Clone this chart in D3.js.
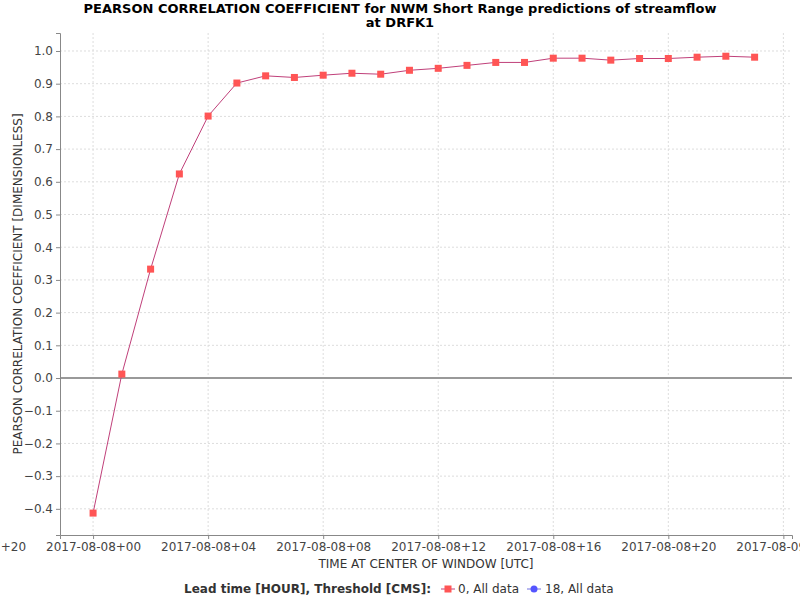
<!DOCTYPE html>
<html><head><meta charset="utf-8">
<script src="https://cdn.jsdelivr.net/npm/d3@7"></script>
<style>body{margin:0;background:#fff;font-family:"DejaVu Sans",sans-serif}</style>
</head><body><svg id="chart" width="800" height="600"></svg>
<script>
// hours after 2017-08-08 00 UTC
var hours = [0,1,2,3,4,5,6,7,8,9,10,11,12,13,14,15,16,17,18,19,20,21,22,23];
var pearson = [-0.413,0.012,0.333,0.624,0.801,0.902,0.924,0.919,0.926,0.932,0.929,0.941,0.947,0.956,0.965,0.965,0.978,0.978,0.972,0.977,0.977,0.981,0.984,0.981];
var yTicks = [-0.4,-0.3,-0.2,-0.1,0,0.1,0.2,0.3,0.4,0.5,0.6,0.7,0.8,0.9,1.0];
var xTicks = [-4,0,4,8,12,16,20,24];

var margin = {top: 33, right: 8, bottom: 65, left: 60},
  width = 800 - margin.left - margin.right,
  height = 600 - margin.top - margin.bottom;

var svg = d3.select("#chart");
var g = svg.append("g").attr("transform", "translate(" + margin.left + "," + margin.top + ")");

var x = d3.scaleLinear().domain([-1.15, 24.3]).range([0, width]);
var y = d3.scaleLinear().domain([-0.48, 1.055]).range([height, 0]);

function fmtHour(h) {
  var day = h < 0 ? "07" : h >= 24 ? "09" : "08";
  var hh = ((h % 24) + 24) % 24;
  return "2017-08-" + day + "+" + (hh < 10 ? "0" : "") + hh;
}

g.append("rect").attr("width", width).attr("height", height).attr("fill", "#fff");

// grid
g.selectAll(".gy").data(yTicks).enter().append("line")
  .attr("x1", 0).attr("x2", width).attr("y1", d => y(d)).attr("y2", d => y(d))
  .attr("stroke", "#ddd").attr("stroke-dasharray", "2,2");
g.selectAll(".gx").data(xTicks).enter().append("line")
  .attr("y1", 0).attr("y2", height).attr("x1", d => x(d)).attr("x2", d => x(d))
  .attr("stroke", "#ddd").attr("stroke-dasharray", "2,2");

// zero line
g.append("line").attr("x1", 0).attr("x2", width).attr("y1", y(0)).attr("y2", y(0))
  .attr("stroke", "#999").attr("stroke-width", 2);

// axes
var ax = g.append("g").attr("transform", "translate(0," + height + ")")
  .call(d3.axisBottom(x).tickValues(xTicks).tickFormat(fmtHour).tickSize(4));
var ay = g.append("g")
  .call(d3.axisLeft(y).tickValues(yTicks).tickFormat(d3.format(".1f")).tickSize(4));
[ax, ay].forEach(function (a) {
  a.selectAll("text").attr("font-family", "DejaVu Sans").attr("font-size", 12).attr("fill", "#444");
  a.selectAll("line").attr("stroke", "#888");
  a.select(".domain").attr("stroke", "#888");
});

// series
var line = d3.line().x((d, i) => x(hours[i])).y(d => y(d));
g.append("path").datum(pearson).attr("d", line).attr("fill", "none")
  .attr("stroke", "#c0407a").attr("stroke-width", 1);
g.selectAll(".pt").data(pearson).enter().append("rect")
  .attr("x", (d, i) => x(hours[i]) - 3.5).attr("y", d => y(d) - 3.5)
  .attr("width", 7).attr("height", 7).attr("fill", "#f55");

// titles
svg.append("text").attr("x", 400).attr("y", 13).attr("text-anchor", "middle")
  .attr("font-weight", "bold").attr("font-size", 13)
  .text("PEARSON CORRELATION COEFFICIENT for NWM Short Range predictions of streamflow");
svg.append("text").attr("x", 400).attr("y", 27).attr("text-anchor", "middle")
  .attr("font-weight", "bold").attr("font-size", 13).text("at DRFK1");
svg.append("text").attr("x", margin.left + width / 2).attr("y", 568).attr("text-anchor", "middle")
  .attr("font-size", 12).attr("fill", "#333").text("TIME AT CENTER OF WINDOW [UTC]");
svg.append("text").attr("transform", "translate(22," + (margin.top + height / 2) + ") rotate(-90)")
  .attr("text-anchor", "middle").attr("font-size", 12).attr("fill", "#333")
  .text("PEARSON CORRELATION COEFFICIENT [DIMENSIONLESS]");

// legend
var lg = svg.append("g").attr("transform", "translate(0,593)").attr("font-size", 12);
lg.append("text").attr("x", 184).attr("font-weight", "bold").attr("fill", "#333")
  .text("Lead time [HOUR], Threshold [CMS]:");
lg.append("line").attr("x1", 441).attr("x2", 455).attr("y1", -4).attr("y2", -4).attr("stroke", "#c0407a");
lg.append("rect").attr("x", 444.5).attr("y", -7.5).attr("width", 7).attr("height", 7).attr("fill", "#f55");
lg.append("text").attr("x", 458).attr("fill", "#333").text("0, All data");
lg.append("line").attr("x1", 527).attr("x2", 541).attr("y1", -4).attr("y2", -4).attr("stroke", "#7070e0");
lg.append("circle").attr("cx", 534).attr("cy", -4).attr("r", 3.5).attr("fill", "#55f");
lg.append("text").attr("x", 545).attr("fill", "#333").text("18, All data");
</script></body></html>
